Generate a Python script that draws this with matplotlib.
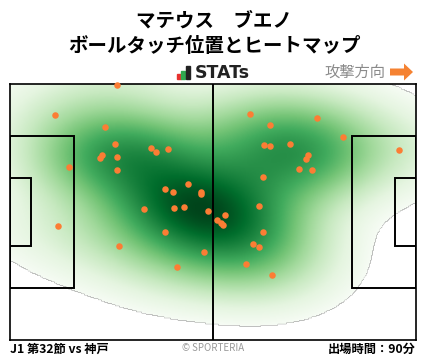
import numpy as np
import matplotlib
matplotlib.use("Agg")
import matplotlib.pyplot as plt
from matplotlib.colors import PowerNorm
from matplotlib.patches import Rectangle, FancyArrow

plt.rcParams['font.family'] = ['Noto Sans CJK JP', 'DejaVu Sans']

# ball touch positions (metres, pitch 105 x 68, y measured from the top edge)
touch_x = [27.7, 11.7, 24.6, 27.2, 36.5, 37.8, 40.9, 23.9, 23.4, 27.7,
           15.3, 27.7, 46.1, 40.2, 42.2, 49.5, 49.5, 34.7, 42.5, 45.1,
           51.3, 12.5, 40.2, 28.3, 50.2, 43.3,
           62.1, 79.5, 67.3, 86.2, 65.8, 67.3, 72.5, 77.1, 76.6, 100.7,
           74.8, 78.2, 65.5, 64.5, 55.7, 53.6, 54.5, 55.0, 65.5, 62.9,
           64.5, 61.1, 67.8]
touch_y = [0.2, 8.3, 11.5, 16.0, 17.1, 18.1, 17.3, 18.9, 19.7, 19.5,
           22.1, 22.9, 26.6, 28.0, 28.8, 28.8, 29.3, 33.3, 33.0, 32.8,
           33.8, 37.8, 39.4, 43.1, 44.7, 48.7,
           8.0, 9.1, 11.0, 14.2, 16.3, 16.5, 16.0, 18.9, 20.0, 17.6,
           22.7, 22.9, 24.6, 32.5, 34.9, 36.2, 37.0, 37.5, 39.4, 42.6,
           43.3, 47.9, 50.8]

title_name = "マテウス　ブエノ"
title_sub = "ボールタッチ位置とヒートマップ"
match_label = "J1 第32節 vs 神戸"
minutes_label = "出場時間：90分"

L, W = 105.0, 68.0
W_PX, H_PX = 428, 359

fig = plt.figure(figsize=(W_PX / 100, H_PX / 100), dpi=100)
ax = fig.add_axes([10 / W_PX, 1 - 340 / H_PX, 406 / W_PX, 256 / H_PX])

# gaussian kde (scott bandwidth widened, full covariance)
bw_adjust = 1.2
pts = np.vstack([touch_x, touch_y])
n = pts.shape[1]
cov = np.cov(pts) * n ** (-2.0 / 6.0) * bw_adjust ** 2
inv = np.linalg.inv(cov)
gx = np.linspace(-30, L + 30, 600)
gy = np.linspace(-30, W + 30, 400)
GX, GY = np.meshgrid(gx, gy)
dx = GX[..., None] - pts[0]
dy = GY[..., None] - pts[1]
q = inv[0, 0] * dx ** 2 + 2 * inv[0, 1] * dx * dy + inv[1, 1] * dy ** 2
dens = np.exp(-0.5 * q).sum(axis=-1)

# iso-proportion threshold (like seaborn thresh)
thresh = 0.02
flat = np.sort(dens.ravel())[::-1]
cum = np.cumsum(flat) / flat.sum()
lev = flat[np.searchsorted(cum, 1 - thresh)]
masked = np.ma.masked_less(dens, lev)
ax.imshow(masked, extent=(gx[0], gx[-1], gy[-1], gy[0]), origin='upper', cmap='Greens',
          norm=PowerNorm(0.75, vmin=lev, vmax=dens.max()),
          interpolation='bilinear', aspect='auto')

# pitch lines
lc = 'black'
lw = 1.4
for x0, w in [(0, 16.5), (L - 16.5, 16.5)]:
    ax.add_patch(Rectangle((x0, (W - 40.3) / 2), w, 40.3, fill=False, ec=lc, lw=lw))
for x0, w in [(0, 5.5), (L - 5.5, 5.5)]:
    ax.add_patch(Rectangle((x0, (W - 18.3) / 2), w, 18.3, fill=False, ec=lc, lw=lw))
ax.plot([L / 2, L / 2], [0, W], color=lc, lw=lw)

ax.scatter(touch_x, touch_y, s=22, color='#fc7d34', zorder=5, clip_on=False, lw=0)

ax.set_xlim(0, L)
ax.set_ylim(W, 0)
ax.set_xticks([])
ax.set_yticks([])
for sp in ax.spines.values():
    sp.set_linewidth(1.2)


def fx(x):
    return x / W_PX


def fy(y):
    return 1 - y / H_PX


fig.text(fx(214), fy(21), title_name, ha='center', va='center', fontsize=14, fontweight='bold')
fig.text(fx(214), fy(46), title_sub, ha='center', va='center', fontsize=14, fontweight='bold')

# STATs logo
for x0, top, c in [(177, 74, '#e8312f'), (181, 71, '#2fa84f'), (186, 66, '#222222')]:
    fig.patches.append(Rectangle((fx(x0), fy(79)), 3.5 / W_PX, (79 - top) / H_PX,
                                 transform=fig.transFigure, color=c))
fig.text(fx(195), fy(73), "STATs", ha='left', va='center', fontsize=12.5,
         fontweight='bold', color='#222222', family='DejaVu Sans')

fig.text(fx(385), fy(72), "攻撃方向", ha='right', va='center', fontsize=11, color='#8a8a8a')
fig.patches.append(FancyArrow(fx(390), fy(72), 14 / W_PX, 0, width=7 / H_PX,
                              head_width=17 / H_PX, head_length=9 / W_PX,
                              length_includes_head=False, transform=fig.transFigure,
                              color='#f58232', lw=0))

fig.text(fx(10), fy(349), match_label, ha='left', va='center', fontsize=8.8, fontweight='bold')
fig.text(fx(213), fy(348), "© SPORTERIA", ha='center', va='center', fontsize=7, color='#999999')
fig.text(fx(416), fy(349), minutes_label, ha='right', va='center', fontsize=8.8, fontweight='bold')

fig.savefig("out.png", dpi=100)
